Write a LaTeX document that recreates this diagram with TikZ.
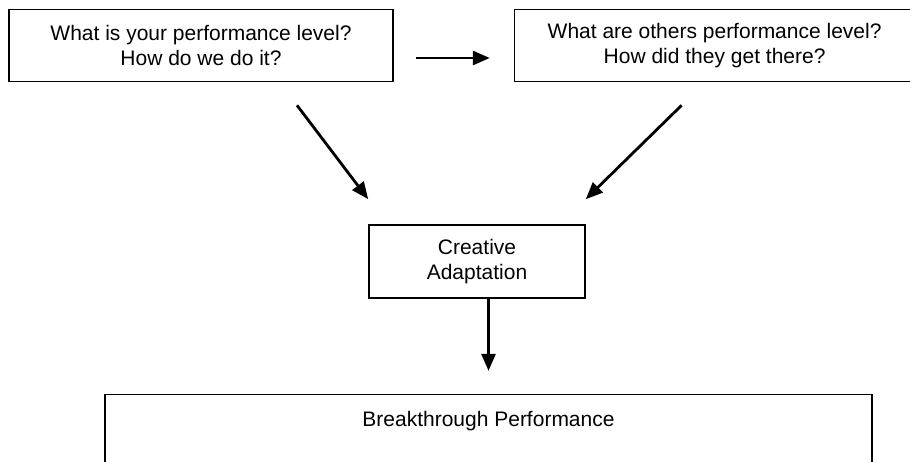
\documentclass[tikz,border=0pt]{standalone}
\usepackage{fontspec}
\setmainfont{Liberation Sans}
\usepackage{tikz}
\usetikzlibrary{arrows.meta,positioning,calc}
\tikzset{
  box/.style={draw, line width=1.6pt, align=center, inner sep=6pt, font=\fontsize{21}{25}\selectfont},
  question/.style={box, minimum width=384pt, minimum height=72pt},
  wide/.style={box, minimum width=400pt, minimum height=72pt},
  mid/.style={box, minimum width=216pt, minimum height=73pt},
  result/.style={box, minimum width=767pt, inner ysep=17pt, text depth=100pt},
  arrow/.style={-{Triangle[length=17pt,width=14pt]}, line width=2.8pt}
}
\begin{document}
\begin{tikzpicture}[x=1pt, y=1pt, node distance=95pt and 120pt]
    \useasboundingbox (0,0) rectangle (910,461);
    % two questions
    \node[question] (yours) at (201,415.5) {What is your performance level?\\How do we do it?};
    \node[wide, right=120pt of yours] (others) {What are others performance level?\\How did they get there?};
    % adaptation
    \node[mid] (adapt) at (477,199.5) {Creative\\Adaptation};
    % result
    \node[result, below=95pt of adapt, xshift=11.5pt] (goal) {Breakthrough Performance};

    % arrows
    \draw[arrow, shorten <=22pt, shorten >=24pt] ([yshift=-12.5pt]yours.east) -- ([yshift=-12.5pt]others.west);
    \draw[arrow] ([xshift=96pt, yshift=-23pt]yours.south) -- ([yshift=25pt]adapt.north west);
    \draw[arrow] ([xshift=-33pt, yshift=-23pt]others.south) -- ([yshift=25pt]adapt.north east);
    \draw[arrow, shorten >=23pt] (adapt.south -| goal.north) -- (goal.north);
  \end{tikzpicture}
\end{document}
